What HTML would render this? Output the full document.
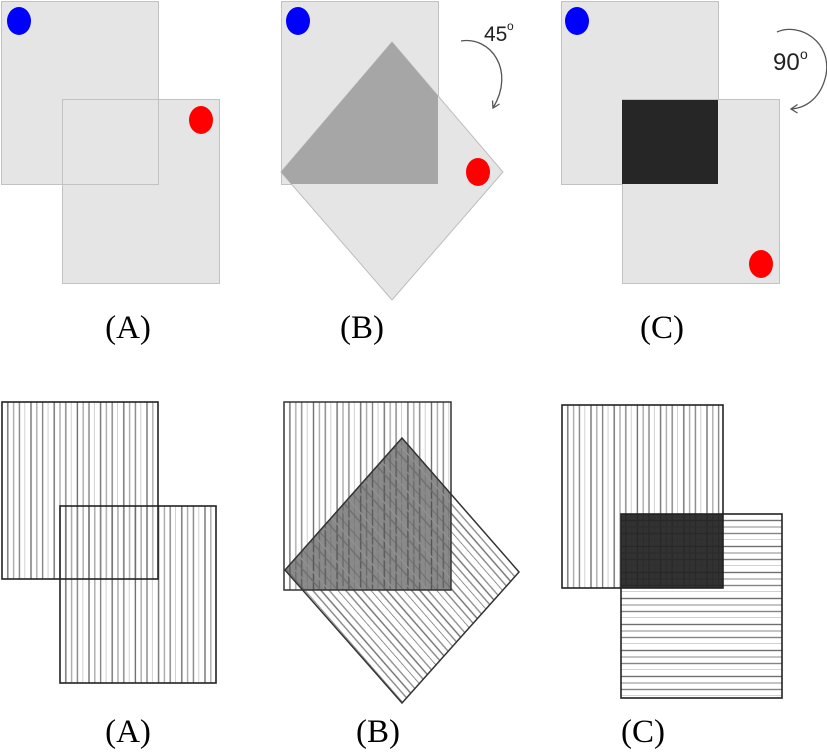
<!DOCTYPE html>
<html>
<head>
<meta charset="utf-8">
<style>
  html,body{margin:0;padding:0;background:#fff;}
  svg{display:block;}
</style>
</head>
<body>
<svg width="827" height="752" viewBox="0 0 827 752" xmlns="http://www.w3.org/2000/svg">
  <defs>
    <pattern id="pvA1" patternUnits="userSpaceOnUse" x="2" y="0" width="23.2" height="10">
      <line x1="5.8" y1="0" x2="5.8" y2="10" stroke="#707070" stroke-width="1.4"/>
      <line x1="11.6" y1="0" x2="11.6" y2="10" stroke="#ababab" stroke-width="1.4"/>
      <line x1="17.4" y1="0" x2="17.4" y2="10" stroke="#858585" stroke-width="1.4"/>
      <line x1="23.2" y1="0" x2="23.2" y2="10" stroke="#bdbdbd" stroke-width="1.4"/>
    </pattern>
    <pattern id="pvA2" patternUnits="userSpaceOnUse" x="60" y="0" width="23.2" height="10">
      <line x1="5.8" y1="0" x2="5.8" y2="10" stroke="#707070" stroke-width="1.4"/>
      <line x1="11.6" y1="0" x2="11.6" y2="10" stroke="#ababab" stroke-width="1.4"/>
      <line x1="17.4" y1="0" x2="17.4" y2="10" stroke="#858585" stroke-width="1.4"/>
      <line x1="23.2" y1="0" x2="23.2" y2="10" stroke="#bdbdbd" stroke-width="1.4"/>
    </pattern>
    <pattern id="pvB" patternUnits="userSpaceOnUse" x="284" y="0" width="23.6" height="10">
      <line x1="5.9" y1="0" x2="5.9" y2="10" stroke="#707070" stroke-width="1.4"/>
      <line x1="11.8" y1="0" x2="11.8" y2="10" stroke="#ababab" stroke-width="1.4"/>
      <line x1="17.7" y1="0" x2="17.7" y2="10" stroke="#858585" stroke-width="1.4"/>
      <line x1="23.6" y1="0" x2="23.6" y2="10" stroke="#bdbdbd" stroke-width="1.4"/>
    </pattern>
    <pattern id="pvBd" patternUnits="userSpaceOnUse" x="284" y="0" width="23.6" height="10">
      <line x1="5.9" y1="0" x2="5.9" y2="10" stroke="#555" stroke-width="1.4"/>
      <line x1="11.8" y1="0" x2="11.8" y2="10" stroke="#6a6a6a" stroke-width="1.4"/>
      <line x1="17.7" y1="0" x2="17.7" y2="10" stroke="#5c5c5c" stroke-width="1.4"/>
      <line x1="23.6" y1="0" x2="23.6" y2="10" stroke="#727272" stroke-width="1.4"/>
    </pattern>
    <pattern id="pvC" patternUnits="userSpaceOnUse" x="562" y="0" width="23.2" height="10">
      <line x1="5.8" y1="0" x2="5.8" y2="10" stroke="#707070" stroke-width="1.4"/>
      <line x1="11.6" y1="0" x2="11.6" y2="10" stroke="#ababab" stroke-width="1.4"/>
      <line x1="17.4" y1="0" x2="17.4" y2="10" stroke="#858585" stroke-width="1.4"/>
      <line x1="23.2" y1="0" x2="23.2" y2="10" stroke="#bdbdbd" stroke-width="1.4"/>
    </pattern>
    <pattern id="phC" patternUnits="userSpaceOnUse" x="0" y="514" width="10" height="26">
      <line x1="0" y1="6.5" x2="10" y2="6.5" stroke="#707070" stroke-width="1.4"/>
      <line x1="0" y1="13" x2="10" y2="13" stroke="#ababab" stroke-width="1.4"/>
      <line x1="0" y1="19.5" x2="10" y2="19.5" stroke="#858585" stroke-width="1.4"/>
      <line x1="0" y1="26" x2="10" y2="26" stroke="#bdbdbd" stroke-width="1.4"/>
    </pattern>
    <pattern id="pdB" patternUnits="userSpaceOnUse" x="0" y="0" width="24.8" height="10" patternTransform="translate(402,438) rotate(-41.1)">
      <line x1="0" y1="0" x2="0" y2="10" stroke="#666" stroke-width="1.4"/>
      <line x1="6.2" y1="0" x2="6.2" y2="10" stroke="#888" stroke-width="1.4"/>
      <line x1="12.4" y1="0" x2="12.4" y2="10" stroke="#6e6e6e" stroke-width="1.4"/>
      <line x1="18.6" y1="0" x2="18.6" y2="10" stroke="#909090" stroke-width="1.4"/>
    </pattern>
  </defs>

  <!-- ================= TOP ROW ================= -->
  <rect x="1.5" y="1.5" width="157" height="183" fill="#e5e5e5" stroke="#c2c2c2" stroke-width="1"/>
  <rect x="62.5" y="99.5" width="157" height="184" fill="#e5e5e5" stroke="#c2c2c2" stroke-width="1"/>
  <rect x="1.5" y="1.5" width="157" height="183" fill="none" stroke="#c2c2c2" stroke-width="1"/>
  <ellipse cx="19" cy="21" rx="12" ry="14" fill="#0000ff"/>
  <ellipse cx="201" cy="120" rx="12" ry="14" fill="#ff0000"/>

  <rect x="281.5" y="1.5" width="157" height="183" fill="#e5e5e5" stroke="#c2c2c2" stroke-width="1"/>
  <polygon points="281,172 392,42 503,172 392,300" fill="#e5e5e5" stroke="#bdbdbd" stroke-width="1"/>
  <polygon points="281,172 392,42 438,96 438,184 291.4,184" fill="#a6a6a6"/>
  <ellipse cx="298" cy="21" rx="12" ry="14" fill="#0000ff"/>
  <ellipse cx="478" cy="172" rx="12" ry="14" fill="#ff0000"/>
  <path d="M461,41 C490,36 516,70 493,108" fill="none" stroke="#555" stroke-width="1.3"/>
  <polyline points="499.5,104 493,108 492.5,100.5" fill="none" stroke="#555" stroke-width="1.3"/>
  <text x="484" y="41" font-family="Liberation Sans, sans-serif" font-size="21" fill="#222">45</text>
  <text x="507" y="30" font-family="Liberation Sans, sans-serif" font-size="12" fill="#222">o</text>

  <rect x="561.5" y="1.5" width="157" height="183" fill="#e5e5e5" stroke="#c2c2c2" stroke-width="1"/>
  <rect x="622.5" y="99.5" width="157" height="184" fill="#e5e5e5" stroke="#c2c2c2" stroke-width="1"/>
  <rect x="622" y="100" width="96" height="84" fill="#262626"/>
  <ellipse cx="577" cy="21" rx="12" ry="14" fill="#0000ff"/>
  <ellipse cx="761" cy="264" rx="12" ry="14" fill="#ff0000"/>
  <path d="M777,32 C800,22 832,42 826,75 C821,98 806,108 791,109" fill="none" stroke="#555" stroke-width="1.3"/>
  <polyline points="797.5,104.5 791,109 797.5,113" fill="none" stroke="#555" stroke-width="1.3"/>
  <text x="773" y="70" font-family="Liberation Sans, sans-serif" font-size="24" fill="#222">90</text>
  <text x="800" y="59" font-family="Liberation Sans, sans-serif" font-size="14" fill="#222">o</text>

  <text x="128" y="338" text-anchor="middle" font-family="Liberation Serif, serif" font-size="33" fill="#000">(A)</text>
  <text x="362" y="338" text-anchor="middle" font-family="Liberation Serif, serif" font-size="33" fill="#000">(B)</text>
  <text x="662" y="338" text-anchor="middle" font-family="Liberation Serif, serif" font-size="33" fill="#000">(C)</text>

  <!-- ================= BOTTOM ROW ================= -->
  <rect x="2" y="402" width="156" height="177" fill="url(#pvA1)"/>
  <rect x="60" y="506" width="156" height="177" fill="url(#pvA2)"/>
  <rect x="2" y="402" width="156" height="177" fill="none" stroke="#222" stroke-width="1.6"/>
  <rect x="60" y="506" width="156" height="177" fill="none" stroke="#222" stroke-width="1.6"/>

  <rect x="284" y="402" width="167" height="188" fill="url(#pvB)"/>
  <polygon points="285,570 402,438 451,494 451,590 302.6,590" fill="#8a8a8a"/>
  <polygon points="285,570 402,438 451,494 451,590 302.6,590" fill="url(#pvBd)"/>
  <polygon points="285,570 402,438 519,572 402,703" fill="url(#pdB)"/>
  <rect x="284" y="402" width="167" height="188" fill="none" stroke="#333" stroke-width="1.5"/>
  <polygon points="285,570 402,438 519,572 402,703" fill="none" stroke="#333" stroke-width="1.5"/>

  <rect x="562" y="405" width="161" height="183" fill="url(#pvC)"/>
  <rect x="621" y="514" width="161" height="184" fill="url(#phC)"/>
  <rect x="621" y="514" width="102" height="74" fill="#222" opacity="0.93"/>
  <rect x="562" y="405" width="161" height="183" fill="none" stroke="#222" stroke-width="1.6"/>
  <rect x="621" y="514" width="161" height="184" fill="none" stroke="#222" stroke-width="1.6"/>

  <text x="128" y="742" text-anchor="middle" font-family="Liberation Serif, serif" font-size="33" fill="#000">(A)</text>
  <text x="378" y="742" text-anchor="middle" font-family="Liberation Serif, serif" font-size="33" fill="#000">(B)</text>
  <text x="643" y="742" text-anchor="middle" font-family="Liberation Serif, serif" font-size="33" fill="#000">(C)</text>
</svg>
</body>
</html>
